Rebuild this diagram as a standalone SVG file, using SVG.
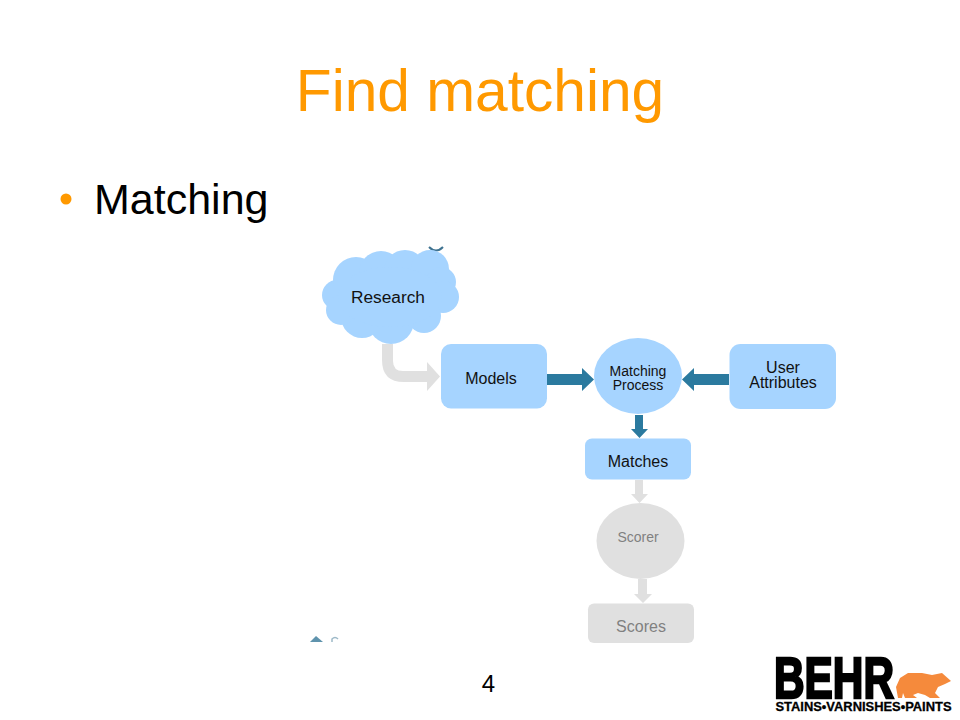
<svg xmlns="http://www.w3.org/2000/svg" width="960" height="720" viewBox="0 0 960 720">
<style>
text{font-family:"Liberation Sans",Arial,sans-serif}
.blue{fill:#a6d4ff}
.gray{fill:#e0e0e0}
.dark{fill:#2b7a9f}
.lbl{font-size:16px;fill:#111;text-anchor:middle}
.sm{font-size:14px;fill:#111;text-anchor:middle}
.gl{fill:#808080;text-anchor:middle}
</style>
<rect width="960" height="720" fill="#fff"/>
<g id="title"><text x="480" y="111" font-size="58.67" fill="#ff9900" text-anchor="middle">Find matching</text></g>
<g id="bullet"><circle cx="66" cy="199" r="5.500" fill="#ff9900"/><text x="94" y="214" font-size="43" fill="#000">Matching</text></g>
<g id="connectors">
<path class="gray" d="M382 344H393V361Q393 371 403 371H427V362L440 376.500L427 391V382H404Q382 382 382 360Z"/>
<path class="dark" d="M547 374H582V368L594 379.500L582 391V385H547Z"/>
<path class="dark" d="M729 374H694V368L682 379.500L694 391V385H729Z"/>
<path class="dark" d="M635 415H643V429H648L639.500 438L631 429H635Z"/>
<path class="gray" d="M635 480H643V494H648L639.500 503L631 494H635Z"/>
<path class="gray" d="M638 579H647V594H652L643 603L634 594H638Z"/>
</g>
<g id="fragments">
<path d="M429 247Q436 254 443 247" fill="none" stroke="#3f7391" stroke-width="2"/>
<path d="M310 642L316 636L323 642Z" fill="#5f93ad"/>
<path d="M332 642V639Q335 636 338 639" fill="none" stroke="#9db9c8" stroke-width="1.500"/>
</g>
<g id="research" class="blue">
<circle cx="337" cy="295" r="15"/><circle cx="356" cy="280" r="23"/><circle cx="381" cy="273" r="22"/><circle cx="405" cy="271" r="21"/><circle cx="430" cy="269" r="19"/><circle cx="441" cy="282" r="15"/><circle cx="443" cy="297" r="16"/><circle cx="424" cy="316" r="17"/><circle cx="391" cy="321" r="23"/><circle cx="362" cy="317" r="21"/><circle cx="341" cy="310" r="15"/><ellipse cx="390" cy="297" rx="52" ry="30"/>
<text x="388" y="303" font-size="17.300" fill="#111" text-anchor="middle">Research</text>
</g>
<g id="models"><rect class="blue" x="441" y="344" width="106" height="64.500" rx="10"/><text x="491" y="384" class="lbl">Models</text></g>
<g id="matching-process"><ellipse class="blue" cx="638" cy="376" rx="44" ry="38"/><text x="638" y="376" class="sm">Matching</text><text x="638" y="390" class="sm">Process</text></g>
<g id="user-attributes"><rect class="blue" x="729.500" y="344" width="106.500" height="65" rx="11"/><text x="783" y="373" class="lbl">User</text><text x="783" y="388" class="lbl">Attributes</text></g>
<g id="matches"><rect class="blue" x="585" y="438.500" width="106" height="41" rx="7"/><text x="638" y="467" class="lbl">Matches</text></g>
<g id="scorer"><ellipse class="gray" cx="640.500" cy="541" rx="44" ry="38"/><text x="638" y="542" font-size="14" class="gl">Scorer</text></g>
<g id="scores"><rect class="gray" x="588" y="603.500" width="106" height="39.500" rx="6"/><text x="641" y="632" font-size="16" class="gl">Scores</text></g>
<g id="page-number"><text x="488.500" y="692" font-size="24" fill="#000" text-anchor="middle">4</text></g>
<g id="logo">
<text x="774" y="698" font-size="57" font-weight="bold" fill="#000" stroke="#000" stroke-width="2.500" textLength="120" lengthAdjust="spacingAndGlyphs">BEHR</text>
<path fill="#f58a3c" d="M898 698L896 687L900 678L908 673L922 673L932 675L942 673L951 681L945 684L938 687L935 693L940 698L930 698L925 695L918 693L913 695L917 698L905 698L903 693L902 698Z"/>
<text x="775.500" y="711" font-size="12.500" font-weight="bold" fill="#000" stroke="#000" stroke-width=".3" textLength="176" lengthAdjust="spacingAndGlyphs">STAINS•VARNISHES•PAINTS</text>
</g>
</svg>
